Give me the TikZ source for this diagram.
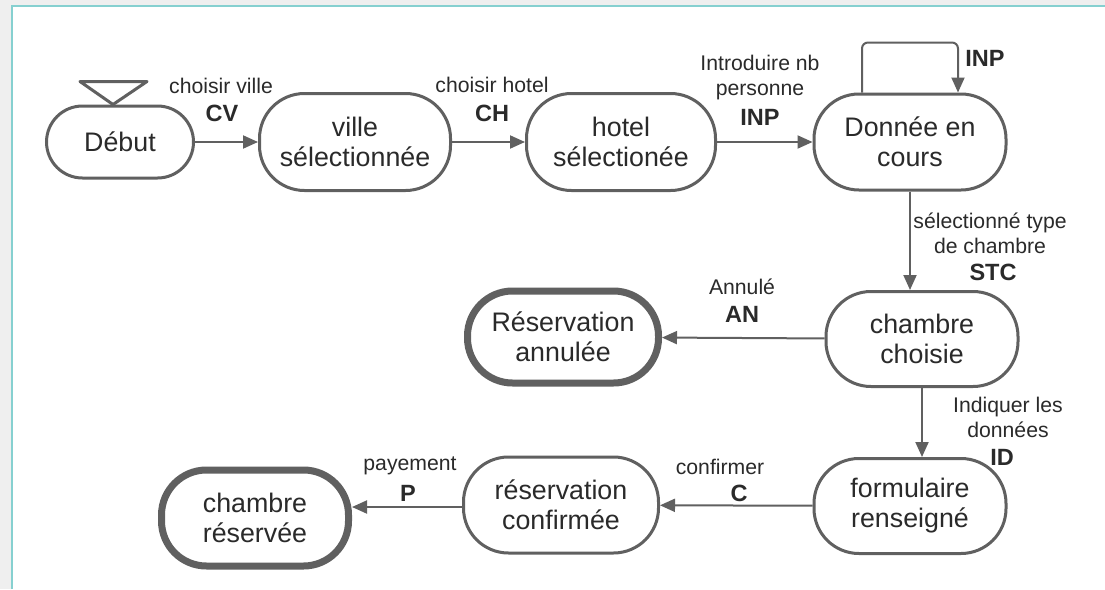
\documentclass[tikz,border=0pt]{standalone}
\usepackage{fontspec}
\setmainfont{Liberation Sans}
\usetikzlibrary{arrows.meta}
\definecolor{edge}{HTML}{606060}
\definecolor{ink}{HTML}{2A2A2A}
\definecolor{teal}{HTML}{86D0D0}
\definecolor{margin}{HTML}{EFEFEF}
\begin{document}
\begin{tikzpicture}[x=1pt,y=-1pt,
  state/.style={draw=edge,line width=3pt,rounded corners=45pt,fill=white,text=ink,
    align=center,inner sep=0pt,font=\fontsize{26.8}{30}\selectfont},
  final/.style={state,line width=7pt},
  arr/.style={draw=edge,line width=2pt,-{Triangle[length=15pt,width=13pt]}},
  lbl/.style={text=ink,align=center,inner sep=0pt,font=\fontsize{21.2}{25}\selectfont},
  code/.style={text=ink,inner sep=0pt,font=\fontsize{23.5}{27}\selectfont\bfseries}]
% page and frame
\useasboundingbox (0,0) rectangle (1105,589);
\fill[white] (0,0) rectangle (1105,589);
\fill[margin] (0,0) rectangle (11,589);
\fill[margin] (0,0) rectangle (1105,5);
\draw[teal,line width=1.8pt] (12,589) -- (12,6) -- (1105,6);

% states
\node[state,minimum width=147pt,minimum height=72pt,rounded corners=36pt] (debut) at (120,142) {Début};
\node[state,minimum width=191pt,minimum height=97pt] (ville) at (355,142) {ville\\sélectionnée};
\node[state,minimum width=189pt,minimum height=97pt] (hotel) at (621,142) {hotel\\sélectionée};
\node[state,minimum width=192pt,minimum height=96pt] (donnee) at (910,142) {Donnée en\\cours};
\node[state,minimum width=192pt,minimum height=95pt] (choisie) at (922,339) {chambre\\choisie};
\node[final,minimum width=191pt,minimum height=92pt] (annulee) at (563,337) {Réservation\\annulée};
\node[state,minimum width=192pt,minimum height=95pt] (formulaire) at (910,506) {formulaire\\renseigné};
\node[state,minimum width=195pt,minimum height=96pt] (confirmee) at (561,505) {réservation\\confirmée};
\node[final,minimum width=187pt,minimum height=96pt] (reservee) at (255,518) {chambre\\réservée};

% start marker above the initial state
\draw[edge,line width=3pt,line join=round] ([xshift=-7pt]debut.north) -- ++(-33,-23) -- ++(67,0) -- cycle;

% transitions
\draw[arr] (debut) -- (ville);
\draw[arr] (ville) -- (hotel);
\draw[arr] (hotel) -- (donnee);
\draw[arr,rounded corners=6pt] ([xshift=-48pt]donnee.north) -- ++(0,-50) -| ([xshift=48pt]donnee.north);
\draw[arr] (donnee.south) -- (donnee.south |- choisie.north);
\draw[arr] (choisie) -- (annulee);
\draw[arr] (choisie.south) -- (choisie.south |- formulaire.north);
\draw[arr] (formulaire) -- (confirmee);
\draw[arr] (confirmee.west |- 0,507) -- (reservee.east |- 0,507);

% transition labels
\node[lbl] (l1) at (221,86) {choisir ville};
\node[code] (c1) at (222,113) {CV};
\node[lbl] (l2) at (492,85) {choisir hotel};
\node[code] (c2) at (492,113) {CH};
\node[lbl] (l3) at (760,78) {Introduire nb\\personne};
\node[code] (c3) at (760,117) {INP};
\node[code] (c4) at (985,58) {INP};
\node[lbl] (l5) at (990,233) {sélectionné type\\de chambre};
\node[code] (c5) at (993,272) {STC};
\node[lbl] (l6) at (742,287) {Annulé};
\node[code] (c6) at (742,314) {AN};
\node[lbl] (l7) at (1008,417) {Indiquer les\\données};
\node[code] (c7) at (1002,457) {ID};
\node[lbl] (l8) at (720,467) {confirmer};
\node[code] (c8) at (739,493) {C};
\node[lbl] (l9) at (410,466) {payement};
\node[code] (c9) at (408,493) {P};
\end{tikzpicture}
\end{document}
